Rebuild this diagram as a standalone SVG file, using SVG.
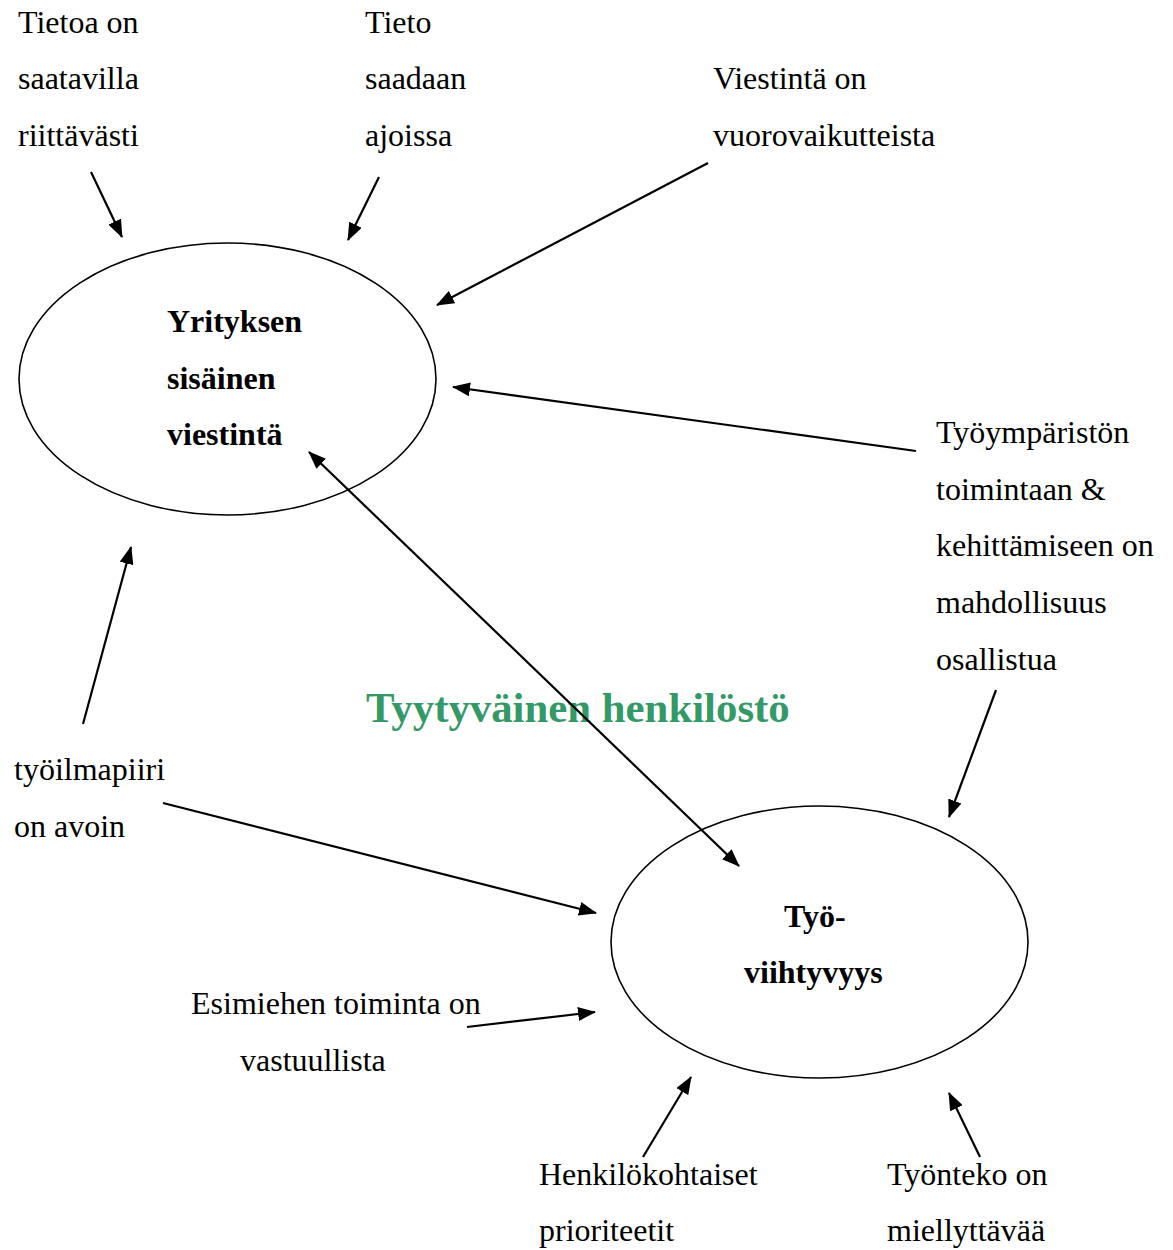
<svg xmlns="http://www.w3.org/2000/svg" width="1173" height="1250" viewBox="0 0 1173 1250">
<style>
text{font-family:"Liberation Serif","Times New Roman",serif;font-size:32px;fill:#000}
.b{font-weight:bold}
.title{font-size:42.8px;font-weight:bold;fill:#339966}
.node{fill:#fff;stroke:#000;stroke-width:1.6}
.c line{stroke:#000;stroke-width:2.2}
</style>
<defs>
<marker id="ah" markerUnits="userSpaceOnUse" markerWidth="18" markerHeight="14" refX="17" refY="7" orient="auto">
<path d="M0,0 L18,7 L0,14 Z" fill="#000"/>
</marker>
<marker id="as" markerUnits="userSpaceOnUse" markerWidth="18" markerHeight="14" refX="1" refY="7" orient="auto">
<path d="M18,0 L0,7 L18,14 Z" fill="#000"/>
</marker>
</defs>
<rect width="1173" height="1250" fill="#fff"/>
<g id="n-viestinta">
<ellipse class="node" cx="227.5" cy="379" rx="208.5" ry="136"/>
<text class="b" x="167" y="332">Yrityksen</text>
<text class="b" x="167" y="389">sisäinen</text>
<text class="b" x="167" y="445">viestintä</text>
</g>
<g id="n-viihtyvyys">
<ellipse class="node" cx="819.5" cy="942" rx="208.5" ry="136"/>
<text class="b" x="784" y="927">Työ-</text>
<text class="b" x="744" y="983">viihtyvyys</text>
</g>
<g id="n-title">
<text class="title" x="366" y="722">Tyytyväinen henkilöstö</text>
</g>
<g id="n-tietoa">
<text x="18" y="33">Tietoa on</text>
<text x="18" y="89">saatavilla</text>
<text x="18" y="146">riittävästi</text>
</g>
<g id="n-tieto">
<text x="365" y="33">Tieto</text>
<text x="365" y="89">saadaan</text>
<text x="365" y="146">ajoissa</text>
</g>
<g id="n-vuoro">
<text x="713" y="89">Viestintä on</text>
<text x="713" y="146">vuorovaikutteista</text>
</g>
<g id="n-tyoymp">
<text x="936" y="443">Työympäristön</text>
<text x="936" y="500">toimintaan &amp;</text>
<text x="936" y="556">kehittämiseen on</text>
<text x="936" y="613">mahdollisuus</text>
<text x="936" y="670">osallistua</text>
</g>
<g id="n-ilmapiiri">
<text x="14" y="780">työilmapiiri</text>
<text x="14" y="837">on avoin</text>
</g>
<g id="n-esimies">
<text x="191" y="1014">Esimiehen toiminta on</text>
<text x="240" y="1071">vastuullista</text>
</g>
<g id="n-henk">
<text x="539" y="1185">Henkilökohtaiset</text>
<text x="539" y="1241">prioriteetit</text>
</g>
<g id="n-tyonteko">
<text x="887" y="1185">Työnteko on</text>
<text x="887" y="1241">miellyttävää</text>
</g>
<g id="connectors" class="c">
<line x1="91" y1="172" x2="122" y2="237" marker-end="url(#ah)"/>
<line x1="379" y1="177" x2="348" y2="240" marker-end="url(#ah)"/>
<line x1="708" y1="163" x2="437" y2="305" marker-end="url(#ah)"/>
<line x1="916" y1="451" x2="453" y2="387" marker-end="url(#ah)"/>
<line x1="996" y1="690" x2="949" y2="817" marker-end="url(#ah)"/>
<line x1="309" y1="452" x2="739" y2="866" marker-start="url(#as)" marker-end="url(#ah)"/>
<line x1="83" y1="724" x2="131" y2="547" marker-end="url(#ah)"/>
<line x1="163" y1="803" x2="596" y2="913" marker-end="url(#ah)"/>
<line x1="467" y1="1027" x2="595" y2="1012" marker-end="url(#ah)"/>
<line x1="643" y1="1157" x2="691" y2="1077" marker-end="url(#ah)"/>
<line x1="980" y1="1157" x2="949" y2="1093" marker-end="url(#ah)"/>
</g>
</svg>
